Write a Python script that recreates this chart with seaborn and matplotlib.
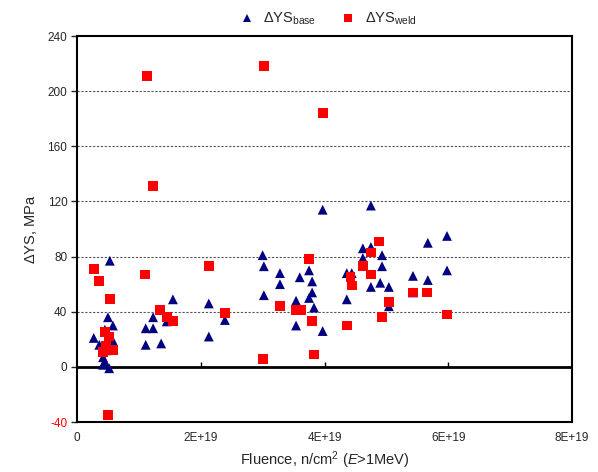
import matplotlib
matplotlib.use("Agg")
import matplotlib.pyplot as plt
import seaborn as sns
import pandas as pd
import numpy as np

# fluence in units of 1E19 n/cm2, yield strength change in MPa
base_x = [0.27, 0.36, 0.50, 0.58, 0.58, 0.45, 0.42, 0.45, 0.52, 0.42, 0.53, 0.48,
          1.11, 1.11, 1.23, 1.23, 1.36, 1.55, 1.45, 2.13, 2.13, 2.39,
          3.00, 3.02, 3.02, 3.28, 3.28, 3.60, 3.75, 3.80, 3.80, 3.75, 3.54, 3.83, 3.54,
          3.97, 3.97, 4.36, 4.44, 4.36, 4.62, 4.75, 4.62, 4.75, 4.93, 4.93, 4.75, 4.90,
          5.04, 5.04, 5.43, 5.67, 5.67, 5.98, 5.98, 5.43]
base_y = [21, 16, 36, 30, 19, 27, 7, 4, -1, 1.5, 77, 12,
          28, 16, 36, 28, 17, 49, 33, 46, 22, 34,
          81, 73, 52, 68, 60, 65, 70, 62, 54, 50, 48, 43, 30,
          26, 114, 68, 68, 49, 86, 87, 79, 117, 81, 73, 58, 61,
          58, 44, 66, 90, 63, 95, 70, 54]

weld_x = [0.27, 0.36, 0.53, 0.45, 0.52, 0.47, 0.42, 0.58, 0.50,
          1.13, 1.10, 1.23, 1.34, 1.45, 1.55, 2.13, 2.39,
          3.00, 3.02, 3.28, 3.54, 3.62, 3.75, 3.80, 3.83, 3.97,
          4.36, 4.42, 4.44, 4.62, 4.75, 4.75, 4.88, 4.93, 5.04, 5.43, 5.65, 5.98]
weld_y = [71, 62, 49, 25, 22, 15, 11, 12, -35,
          211, 67, 131, 41, 36, 33, 73, 39,
          6, 218, 44, 41, 41, 78, 33, 9, 184,
          30, 65, 59, 73, 83, 67, 91, 36, 47, 54, 54, 38]

labels = [r"$\Delta$YS$_{\mathrm{base}}$", r"$\Delta$YS$_{\mathrm{weld}}$"]
x_ticks = [0, 2e19, 4e19, 6e19, 8e19]
x_ticklabels = ["0", "2E+19", "4E+19", "6E+19", "8E+19"]
y_ticks = [-40, 0, 40, 80, 120, 160, 200, 240]

df = pd.DataFrame({
    "fluence": np.array(base_x + weld_x) * 1e19,
    "dys": base_y + weld_y,
    "set": [labels[0]] * len(base_x) + [labels[1]] * len(weld_x),
})

sns.set_style("white")
plt.rcParams["font.family"] = ["Liberation Sans", "DejaVu Sans"]
plt.rcParams["mathtext.fontset"] = "custom"
plt.rcParams["mathtext.rm"] = "Liberation Sans"
plt.rcParams["mathtext.it"] = "Liberation Sans:italic"

fig = plt.figure(figsize=(5.98, 4.72), dpi=100)
ax = fig.add_axes([0.1288, 0.1059, 0.8277, 0.8178])

# dashed grid lines behind the data
for y in y_ticks[2:-1]:
    ax.axhline(y, color="#555555", lw=0.8, ls=(0, (2, 1.5)), zorder=0)
ax.axhline(0, color="black", lw=2, zorder=1)

sns.scatterplot(data=df, x="fluence", y="dys", hue="set", style="set",
                markers={labels[0]: "^", labels[1]: "s"},
                palette={labels[0]: "#000080", labels[1]: "#ff0000"},
                s=50, linewidth=0, ax=ax, zorder=3)

# small tick marks on the zero line, as in the original
ax.scatter(x_ticks[1:-1], [0] * 3, marker=2, s=12, color="black", lw=1, zorder=2)

ax.set_xlim(0, 8e19)
ax.set_ylim(-40, 240)
ax.set_xticks(x_ticks)
ax.set_xticklabels(x_ticklabels, fontsize=8.5)
ax.set_yticks(y_ticks)
ax.set_yticklabels([str(v) for v in y_ticks], fontsize=8.5)
ax.get_yticklabels()[0].set_color("red")
ax.tick_params(axis="x", length=0, pad=7)
ax.tick_params(axis="y", direction="out", length=4, width=1, left=True, pad=3)
for sp in ax.spines.values():
    sp.set_color("black")
    sp.set_linewidth(1.5)

ax.set_xlabel(r"Fluence, n/cm$^2$ ($\mathit{E}$>1MeV)", fontsize=10.5, labelpad=4)
ax.set_ylabel(r"$\Delta$YS, MPa", fontsize=10.5, labelpad=6)

ax.legend(loc="lower center", bbox_to_anchor=(0.5, 1.0), ncol=2, frameon=False,
          fontsize=10.5, handletextpad=0.1, columnspacing=1.2, markerscale=0.8,
          borderaxespad=0.2)

fig.savefig("out.png", dpi=100)
